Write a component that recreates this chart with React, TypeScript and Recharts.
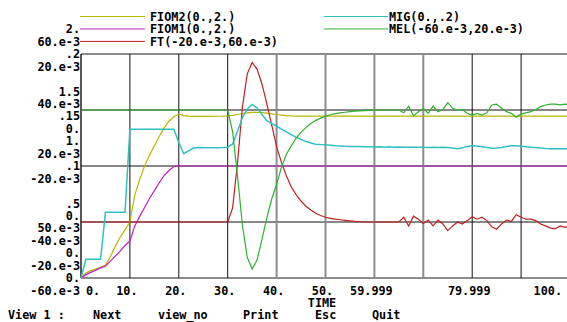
import React from 'react';
import { LineChart, Line, XAxis, YAxis, CartesianGrid, ReferenceLine } from 'recharts';

const TIME = [
  0, 1, 2, 3, 4, 5, 6, 7, 8, 9,
  10, 11, 12, 13, 14, 15, 16, 17, 18, 19,
  20, 21, 22, 23, 24, 25, 26, 27, 28, 29,
  30, 31, 32, 33, 34, 35, 36, 37, 38, 39,
  40, 41, 42, 43, 44, 45, 46, 47, 48, 49,
  50, 51, 52, 53, 54, 55, 56, 57, 58, 59,
  60, 61, 62, 63, 64, 65, 66, 67, 68, 69,
  70, 71, 72, 73, 74, 75, 76, 77, 78, 79,
  80, 81, 82, 83, 84, 85, 86, 87, 88, 89,
  90, 91, 92, 93, 94, 95, 96, 97, 98, 99, 100,
];

const FIOM2 = [
  0, 0.045, 0.066, 0.08, 0.095, 0.115, 0.19, 0.28, 0.363, 0.43,
  0.5, 0.74, 0.88, 1.0, 1.095, 1.18, 1.265, 1.34, 1.4, 1.44,
  1.464, 1.45, 1.445, 1.443, 1.443, 1.443, 1.443, 1.443, 1.444, 1.445,
  1.447, 1.452, 1.46, 1.468, 1.474, 1.478, 1.48, 1.478, 1.472, 1.466,
  1.46, 1.455, 1.45, 1.447, 1.446, 1.446, 1.446, 1.446, 1.446, 1.446,
  1.446, 1.446, 1.446, 1.446, 1.446, 1.446, 1.446, 1.446, 1.446, 1.446,
  1.446, 1.446, 1.446, 1.446, 1.446, 1.446, 1.446, 1.446, 1.446, 1.446,
  1.446, 1.446, 1.446, 1.446, 1.446, 1.446, 1.446, 1.446, 1.446, 1.446,
  1.446, 1.446, 1.446, 1.446, 1.446, 1.446, 1.446, 1.446, 1.446, 1.446,
  1.446, 1.446, 1.446, 1.446, 1.446, 1.446, 1.446, 1.446, 1.446, 1.446, 1.446,
];

const FIOM1 = [
  0, 0.03, 0.05, 0.07, 0.09, 0.105, 0.15, 0.195, 0.24, 0.29,
  0.33, 0.465, 0.55, 0.63, 0.71, 0.78, 0.85, 0.915, 0.96, 0.995,
  1.005, 1.0, 1.0, 1.0, 1.0, 1.0, 1.0, 1.0, 1.0, 1.0,
  1.0, 1.0, 1.0, 1.0, 1.0, 1.0, 1.0, 1.0, 1.0, 1.0,
  1.0, 1.0, 1.0, 1.0, 1.0, 1.0, 1.0, 1.0, 1.0, 1.0,
  1.0, 1.0, 1.0, 1.0, 1.0, 1.0, 1.0, 1.0, 1.0, 1.0,
  1.0, 1.0, 1.0, 1.0, 1.0, 1.0, 1.0, 1.0, 1.0, 1.0,
  1.0, 1.0, 1.0, 1.0, 1.0, 1.0, 1.0, 1.0, 1.0, 1.0,
  1.0, 1.0, 1.0, 1.0, 1.0, 1.0, 1.0, 1.0, 1.0, 1.0,
  1.0, 1.0, 1.0, 1.0, 1.0, 1.0, 1.0, 1.0, 1.0, 1.0, 1.0,
];

const FT = [
  0, 0, 0, 0, 0, 0, 0, 0, 0, 0,
  0, 0, 0, 0, 0, 0, 0, 0, 0, 0,
  0, 0, 0, 0, 0, 0, 0, 0, 0, 0,
  0, 0.005, 0.021, 0.041, 0.0529, 0.057, 0.0546, 0.0493, 0.0423, 0.0346,
  0.0269, 0.0212, 0.0165, 0.0125, 0.0098, 0.0075, 0.0056, 0.0043, 0.0031, 0.0023,
  0.0017, 0.0013, 0.001, 0.0008, 0.0006, 0.0004, 0.0002, 0.0001, 0, 0,
  0, 0, 0, 0, 0, 0, 0.0017, -0.0014, 0.0021, 0.001,
  -0.0005, 0.0007, -0.0014, 0.0007, -0.0007, -0.0031, -0.0014, 0, -0.0007, 0.0005,
  0.0019, 0.001, 0.0017, 0.0005, -0.0017, -0.0026, -0.0007, 0.0007, 0.0002, 0.0026,
  0.0017, 0.001, 0.001, 0.0005, -0.0007, -0.0014, -0.0022, -0.0024, -0.0014, -0.0019, -0.0012,
];

const MIG = [
  0, 0.0167, 0.0167, 0.0167, 0.0167, 0.0587, 0.0587, 0.0587, 0.0587, 0.0587,
  0.1328, 0.1328, 0.1328, 0.1328, 0.1328, 0.1328, 0.1328, 0.1328, 0.1328, 0.1328,
  0.121, 0.111, 0.1135, 0.116, 0.1165, 0.1163, 0.1163, 0.1162, 0.1163, 0.1165,
  0.1168, 0.1196, 0.131, 0.143, 0.151, 0.155, 0.152, 0.146, 0.1405, 0.138,
  0.1355, 0.133, 0.1305, 0.128, 0.1255, 0.1238, 0.1218, 0.1205, 0.1195, 0.1192,
  0.119, 0.1185, 0.118, 0.1178, 0.1176, 0.1175, 0.1174, 0.1173, 0.1172, 0.1172,
  0.117, 0.1172, 0.1168, 0.1172, 0.1167, 0.117, 0.1168, 0.1168, 0.1168, 0.1168,
  0.1168, 0.1166, 0.1168, 0.1166, 0.1168, 0.1166, 0.116, 0.1155, 0.1162, 0.1175,
  0.1181, 0.1178, 0.1172, 0.1165, 0.1158, 0.116, 0.1166, 0.1175, 0.1181, 0.118,
  0.1176, 0.1172, 0.1168, 0.1165, 0.116, 0.1157, 0.1155, 0.1155, 0.1155, 0.1155, 0.1155,
];

const MEL = [
  0, 0, 0, 0, 0, 0, 0, 0, 0, 0,
  0, 0, 0, 0, 0, 0, 0, 0, 0, 0,
  0, 0, 0, 0, 0, 0, 0, 0, 0, 0,
  0, -0.0077, -0.0235, -0.041, -0.0526, -0.0568, -0.0536, -0.0463, -0.0385, -0.0318,
  -0.0265, -0.0205, -0.0158, -0.0128, -0.01, -0.0079, -0.0063, -0.0048, -0.0037, -0.0029,
  -0.0022, -0.0017, -0.0013, -0.001, -0.0008, -0.0006, -0.0004, -0.0003, -0.0002, -0.0001,
  0, 0, 0, 0, 0, 0, -0.001, 0.0014, -0.0021, -0.0006,
  0.0006, -0.0012, 0.0014, -0.0006, 0.0002, 0.0026, 0.0006, 0, 0.0002, -0.0012,
  -0.0018, -0.0012, -0.0018, -0.001, 0.0018, 0.0021, 0.0006, -0.0006, -0.0012, -0.0026,
  -0.0014, -0.001, -0.0006, 0.0002, 0.0012, 0.0018, 0.0021, 0.0021, 0.0018, 0.0021, 0.0019,
];

const X_TICKS = [0, 10, 20, 30, 40, 50, 60, 70, 80, 90, 100];
const X_LABELS = ['0.', '10.', '20.', '30.', '40.', '50.', '59.999', '', '79.999', '', '100.'];

const FIOM_TICKS = [0, 0.5, 1, 1.5, 2];
const FIOM_LABELS = ['0.', '.5', '1.', '1.5', '2.'];
const FT_TICKS = [-0.02, 0, 0.02, 0.04, 0.06];
const FT_LABELS = ['-20.e-3', '0.', '20.e-3', '40.e-3', '60.e-3'];
const MIG_TICKS = [0, 0.05, 0.1, 0.15, 0.2];
const MIG_LABELS = ['0.', '50.e-3', '.1', '.15', '.2'];
const MEL_TICKS = [-0.06, -0.04, -0.02, 0, 0.02];
const MEL_LABELS = ['-60.e-3', '-40.e-3', '-20.e-3', '0.', '20.e-3'];

const SERIES_NAMES = ['FIOM2(0.,2.)', 'FIOM1(0.,2.)', 'FT(-20.e-3,60.e-3)', 'MIG(0.,.2)', 'MEL(-60.e-3,20.e-3)'];
const SERIES_KEYS = ['fiom2', 'fiom1', 'ft', 'mig', 'mel'];
const SERIES_AXES = ['fiom2', 'fiom1', 'ft', 'mig', 'mel'];
const SERIES_COLORS = ['#b8b800', '#c020c0', '#c02020', '#30c0c0', '#30b030'];
const SERIES_WIDTHS = [1.2, 1.2, 1.2, 1.5, 1.2];

// grid line look (styling only): dark thin vs soft grey
const DARK = { stroke: '#111', strokeWidth: 1 };
const SOFT = { stroke: '#8c8c8c', strokeWidth: 2 };
const V_GRID_STYLE = [DARK, DARK, DARK, DARK, SOFT, SOFT, SOFT, SOFT, DARK, DARK, DARK];
const H_GRID_STYLE = [SOFT, DARK, DARK, DARK, SOFT];

const X_TITLE = 'TIME';
const MENU = ['View 1 :', 'Next', 'view_no', 'Print', 'Esc', 'Quit'];
const MENU_X = [8, 93, 158, 243, 315, 372];

const FONT = '"DejaVu Sans Mono", "Liberation Mono", monospace';
const FS = 11.8;
const CW = FS * 0.602;
const ROW0 = 16.5;
const ROWH = 12.45;
const BASE = FS * 0.365;
const rowY = (k: number) => ROW0 + k * ROWH;
const snap = (y: number) => ROW0 + Math.round((y - ROW0) / ROWH) * ROWH;

const rows = TIME.map((t, i) => ({
  t,
  fiom2: FIOM2[i],
  fiom1: FIOM1[i],
  ft: FT[i],
  mig: MIG[i],
  mel: MEL[i],
}));

const textStyle: React.CSSProperties = { fontFamily: FONT, fontSize: FS, fontWeight: 'bold' };

const makeYTick = (ticks: number[], labels: string[], rowOffset: number) => (props: any) => {
  const { y, payload } = props;
  const i = ticks.findIndex((v) => Math.abs(v - payload.value) < 1e-9);
  const label = i >= 0 ? labels[i] : '';
  const cy = snap(y + rowOffset * ROWH);
  return (
    <text x={80} y={cy + BASE} textAnchor="end" fill="#000" style={textStyle}>
      {label}
    </text>
  );
};

const XTick = (props: any) => {
  const { x, payload } = props;
  const i = X_TICKS.findIndex((v) => Math.abs(v - payload.value) < 1e-9);
  const label = i >= 0 ? X_LABELS[i] : '';
  if (!label) return <g />;
  const w = label.length * CW;
  let start = x - 3 - w / 2;
  start = Math.max(start, 86);
  start = Math.min(start, 562 - w);
  return (
    <text x={start} y={rowY(22) + BASE} textAnchor="start" fill="#000" style={textStyle}>
      {label}
    </text>
  );
};

const FiomTick = makeYTick(FIOM_TICKS, FIOM_LABELS, -2);
const FtTick = makeYTick(FT_TICKS, FT_LABELS, -1);
const MigTick = makeYTick(MIG_TICKS, MIG_LABELS, 0);
const MelTick = makeYTick(MEL_TICKS, MEL_LABELS, 1);

const LEGEND_POS = [
  { x1: 80, x2: 145, tx: 150, row: 0 },
  { x1: 80, x2: 145, tx: 150, row: 1 },
  { x1: 80, x2: 145, tx: 150, row: 2 },
  { x1: 324, x2: 388, tx: 389, row: 0 },
  { x1: 324, x2: 388, tx: 389, row: 1 },
];

export default function App() {
  return (
    <div
      style={{
        position: 'absolute',
        left: 0,
        top: 0,
        width: 567,
        height: 322,
        overflow: 'hidden',
        background: '#fff',
      }}
    >
      <LineChart width={570} height={322} data={rows} margin={{ top: 54, right: 0, bottom: 14, left: 76 }}>
        <CartesianGrid yAxisId="mig" horizontal={false} vertical={false} />
        <XAxis
          dataKey="t"
          type="number"
          domain={[0, 100]}
          ticks={X_TICKS}
          interval={0}
          tick={XTick}
          tickLine={false}
          axisLine={false}
          height={30}
        />
        <YAxis yAxisId="fiom2" domain={[0, 2]} ticks={FIOM_TICKS} interval={0} width={1} axisLine={false} tickLine={false} tick={FiomTick} />
        <YAxis yAxisId="fiom1" domain={[0, 2]} ticks={FIOM_TICKS} interval={0} width={1} axisLine={false} tickLine={false} tick={false} />
        <YAxis yAxisId="ft" domain={[-0.02, 0.06]} ticks={FT_TICKS} interval={0} width={1} axisLine={false} tickLine={false} tick={FtTick} />
        <YAxis yAxisId="mig" domain={[0, 0.2]} ticks={MIG_TICKS} interval={0} width={1} axisLine={false} tickLine={false} tick={MigTick} />
        <YAxis yAxisId="mel" domain={[-0.06, 0.02]} ticks={MEL_TICKS} interval={0} width={1} axisLine={false} tickLine={false} tick={MelTick} />
        {MIG_TICKS.map((v, i) => (
          <ReferenceLine key={'h' + v} y={v} yAxisId="mig" stroke={H_GRID_STYLE[i].stroke} strokeWidth={H_GRID_STYLE[i].strokeWidth} />
        ))}
        {X_TICKS.map((v, i) => (
          <ReferenceLine key={'v' + v} x={v} yAxisId="mig" stroke={V_GRID_STYLE[i].stroke} strokeWidth={i === 0 ? 1.4 : V_GRID_STYLE[i].strokeWidth} />
        ))}
        {SERIES_KEYS.map((k, i) => (
          <Line
            key={k}
            yAxisId={SERIES_AXES[i]}
            dataKey={k}
            name={SERIES_NAMES[i]}
            type="linear"
            stroke={SERIES_COLORS[i]}
            strokeWidth={SERIES_WIDTHS[i]}
            dot={false}
            activeDot={false}
            isAnimationActive={false}
          />
        ))}
      </LineChart>
      <svg
        width={567}
        height={322}
        style={{ position: 'absolute', left: 0, top: 0, pointerEvents: 'none' }}
      >
        {SERIES_NAMES.map((name, i) => {
          const p = LEGEND_POS[i];
          const cy = rowY(p.row);
          return (
            <g key={name}>
              <line x1={p.x1} x2={p.x2} y1={cy} y2={cy} stroke={SERIES_COLORS[i]} strokeWidth={1} />
              <text x={p.tx} y={cy + BASE} fill="#000" style={textStyle}>
                {name}
              </text>
            </g>
          );
        })}
        <text x={322} y={rowY(23) + BASE} textAnchor="middle" fill="#000" style={textStyle}>
          {X_TITLE}
        </text>
        {MENU.map((m, i) => (
          <text key={m} x={MENU_X[i]} y={rowY(24) - 1 + BASE} fill="#000" style={textStyle} xmlSpace="preserve">
            {m}
          </text>
        ))}
      </svg>
    </div>
  );
}
